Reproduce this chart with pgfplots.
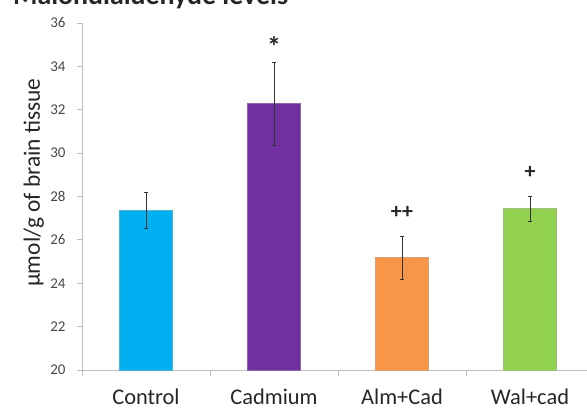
\documentclass[border=0pt]{standalone}
\usepackage{pgfplots}
\pgfplotsset{compat=1.18}
\usepackage{fontspec}
\setmainfont{Carlito}
\definecolor{cctrl}{RGB}{0,176,240}
\definecolor{ccad}{RGB}{112,48,160}
\definecolor{calm}{RGB}{247,150,70}
\definecolor{cwal}{RGB}{146,208,80}
\definecolor{axgray}{RGB}{190,190,190}
\definecolor{txt}{RGB}{38,38,38}
\begin{document}
\begin{tikzpicture}[x=1bp,y=1bp]
\begin{axis}[
  at={(0,0)}, anchor=south west,
  scale only axis, width=512bp, height=347bp,
  xmin=-0.5, xmax=3.5, ymin=20, ymax=36,
  ytick={20,22,...,36},
  xtick={0,1,2,3},
  xticklabels={Control,Cadmium,Alm+Cad,Wal+cad},
  minor xtick={-0.5,0.5,1.5,2.5,3.5},
  major x tick style={draw=none},
  minor tick length=6bp,
  major tick length=5bp,
  tick align=outside,
  axis x line*=bottom, axis y line*=left,
  axis line style={axgray, line width=0.8bp, -},
  every tick/.style={axgray, line width=0.8bp},
  /pgf/number format/assume math mode=true,
  yticklabel style={font=\fontsize{15}{15}\selectfont, text=txt!85, xshift=-8bp},
  xticklabel style={font=\fontsize{22.5}{22.5}\selectfont, text=txt, yshift=-10bp},
  ylabel={µmol/g of brain tissue},
  ylabel style={font=\fontsize{23.5}{23.5}\selectfont, text=txt, at={(axis description cs:-0.094,0.54)}, anchor=center},
  ybar, bar width=52.7bp, bar shift=0pt,
  clip=false,
  error bars/y dir=both, error bars/y explicit,
  error bars/error bar style={black!80, line width=0.6bp},
  error bars/error mark options={rotate=90, mark size=1.8bp, black!80},
]
\addplot[fill=cctrl, draw=cctrl!80!black!70, line width=0.4bp] coordinates {(0,27.37) +- (0,0.84)};
\addplot[fill=ccad, draw=ccad!80!black!70, line width=0.4bp] coordinates {(1,32.28) +- (0,1.92)};
\addplot[fill=calm, draw=calm!80!black!70, line width=0.4bp] coordinates {(2,25.18) +- (0,0.97)};
\addplot[fill=cwal, draw=cwal!80!black!70, line width=0.4bp] coordinates {(3,27.45) +- (0,0.57)};
\node[font=\fontsize{28}{28}\selectfont\bfseries, text=txt] at (axis cs:1,34.9) {*};
\node[font=\fontsize{22}{22}\selectfont\bfseries, text=txt] at (axis cs:2,27.26) {++};
\node[font=\fontsize{22}{22}\selectfont\bfseries, text=txt] at (axis cs:3,29.1) {+};
\end{axis}
\node[font=\fontsize{28}{28}\selectfont\bfseries, text=txt, anchor=base west, inner sep=0pt] at (-69,366) {Malondialdehyde levels};
\pgfresetboundingbox
\useasboundingbox (-82,-42) rectangle (505,370);
\end{tikzpicture}
\end{document}
